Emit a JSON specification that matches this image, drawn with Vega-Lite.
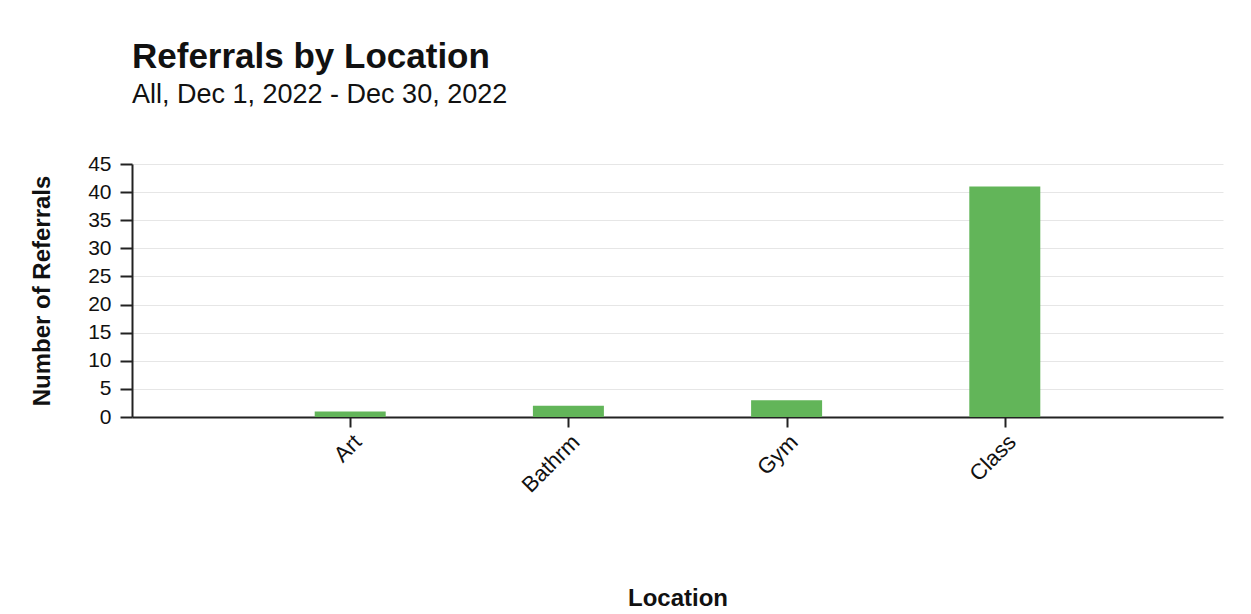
{
  "$schema": "https://vega.github.io/schema/vega-lite/v6.json",
  "width": 1091,
  "height": 253,
  "autosize": {"type": "none"},
  "padding": {"left": 132, "top": 164, "right": 28, "bottom": 197},
  "background": "white",
  "title": {
    "text": "Referrals by Location",
    "subtitle": "All, Dec 1, 2022 - Dec 30, 2022",
    "anchor": "start",
    "frame": "group",
    "font": "Liberation Sans",
    "fontSize": 35,
    "fontWeight": "bold",
    "color": "#111111",
    "subtitleFont": "Liberation Sans",
    "subtitleFontSize": 27,
    "subtitleColor": "#111111",
    "subtitlePadding": 7,
    "offset": 45
  },
  "data": {
    "values": [
      {"Location": "Art", "Referrals": 1},
      {"Location": "Bathrm", "Referrals": 2},
      {"Location": "Gym", "Referrals": 3},
      {"Location": "Class", "Referrals": 41}
    ]
  },
  "mark": {"type": "bar", "size": 71, "color": "#62b559"},
  "encoding": {
    "x": {
      "field": "Location",
      "type": "nominal",
      "sort": null,
      "scale": {"type": "point", "padding": 1},
      "axis": {
        "title": "Location",
        "titleFont": "Liberation Sans",
        "titleFontSize": 24,
        "titleFontWeight": "bold",
        "titleColor": "#111111",
        "titlePadding": 91,
        "labelAngle": -45,
        "labelFont": "Liberation Sans",
        "labelFontSize": 22,
        "labelColor": "#111111",
        "labelPadding": 4,
        "tickSize": 10,
        "tickWidth": 2,
        "tickColor": "#222222",
        "domainColor": "#222222",
        "domainWidth": 2,
        "grid": false
      }
    },
    "y": {
      "field": "Referrals",
      "type": "quantitative",
      "scale": {"domain": [0, 45], "nice": false},
      "axis": {
        "title": "Number of Referrals",
        "titleFont": "Liberation Sans",
        "titleFontSize": 24,
        "titleFontWeight": "bold",
        "titleColor": "#111111",
        "titlePadding": 33,
        "values": [0, 5, 10, 15, 20, 25, 30, 35, 40, 45],
        "labelFont": "Liberation Sans",
        "labelFontSize": 21,
        "labelColor": "#111111",
        "labelPadding": 9,
        "tickSize": 12,
        "tickWidth": 2,
        "tickColor": "#222222",
        "domainColor": "#222222",
        "domainWidth": 2,
        "grid": true,
        "gridColor": "#e6e6e6",
        "gridWidth": 1
      }
    }
  },
  "config": {"view": {"stroke": null}}
}
